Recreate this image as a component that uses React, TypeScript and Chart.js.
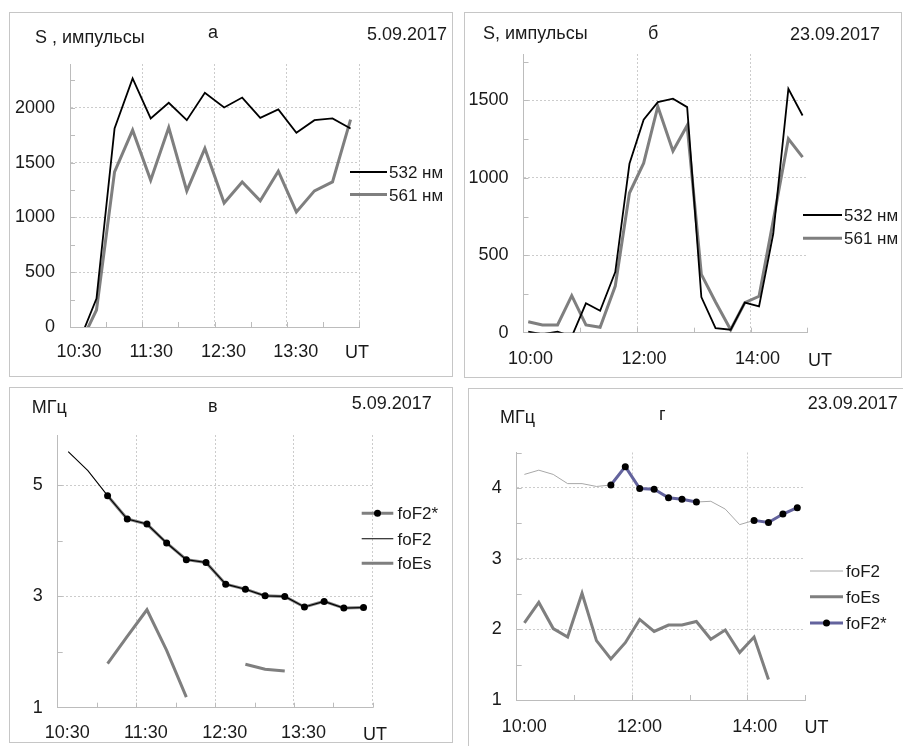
import React, { useEffect, useRef } from "react";
import { Chart, registerables } from "chart.js";

Chart.register(...registerables);

const FONT = '"Liberation Sans", Arial, Helvetica, sans-serif';
const TEXT = "#1a1a1a";
const AXIS = "#bcbcbc";
const GRID = "#cccccc";
const BLACK = "#000000";
const GRAY = "#7f7f7f";
const LIGHTGRAY = "#a8a8a8";
const SLATE = "#63639d";

// ---- Panel а (5.09.2017, intensity) ----
const timesA = ["10:37", "10:52", "11:07", "11:22", "11:37", "11:52", "12:07", "12:22", "12:38", "12:53", "13:08", "13:23", "13:38", "13:53", "14:08", "14:23"];
const nm532A = [-148, 259, 1811, 2268, 1903, 2046, 1887, 2137, 2003, 2094, 1909, 1985, 1772, 1887, 1903, 1811];
const nm561A = [-188, 155, 1416, 1796, 1339, 1820, 1242, 1629, 1132, 1324, 1151, 1422, 1050, 1242, 1324, 1893];

// ---- Panel б (23.09.2017, intensity) ----
const timesB = ["10:05", "10:20", "10:36", "10:51", "11:06", "11:21", "11:37", "11:52", "12:07", "12:22", "12:38", "12:53", "13:08", "13:23", "13:39", "13:54", "14:09", "14:24", "14:40", "14:55"];
const nm532B = [7, -10, 7, -25, 190, 142, 392, 1091, 1375, 1489, 1511, 1457, 230, 30, 19, 194, 170, 639, 1575, 1403];
const nm561B = [71, 50, 50, 239, 50, 35, 301, 902, 1095, 1461, 1173, 1338, 377, 198, 19, 194, 235, 725, 1252, 1134];

// ---- Panel в (5.09.2017, frequencies) ----
const timesC = ["10:38", "10:53", "11:08", "11:23", "11:38", "11:53", "12:08", "12:23", "12:38", "12:53", "13:08", "13:23", "13:38", "13:53", "14:08", "14:23"];
const foF2C = [5.6, 5.26, 4.81, 4.39, 4.3, 3.96, 3.66, 3.61, 3.22, 3.13, 3.01, 3.0, 2.81, 2.91, 2.79, 2.8];
const foF2sC = [null, null, 4.81, 4.39, 4.3, 3.96, 3.66, 3.61, 3.22, 3.13, 3.01, 3.0, 2.81, 2.91, 2.79, 2.8];
const foEsC = [null, null, 1.79, 2.28, 2.76, 2.03, 1.19, null, null, 1.78, 1.69, 1.66, null, null, null, null];

// ---- Panel г (23.09.2017, frequencies) ----
const timesD = ["10:08", "10:23", "10:38", "10:53", "11:08", "11:23", "11:38", "11:53", "12:08", "12:23", "12:38", "12:52", "13:07", "13:22", "13:37", "13:52", "14:07", "14:22", "14:37", "14:52"];
const foF2D = [4.19, 4.25, 4.19, 4.06, 4.06, 4.02, 4.04, 4.3, 3.99, 3.98, 3.86, 3.84, 3.8, 3.81, 3.7, 3.48, 3.54, 3.51, 3.63, 3.72];
const foF2sD = [null, null, null, null, null, null, 4.04, 4.3, 3.99, 3.98, 3.86, 3.84, 3.8, null, null, null, 3.54, 3.51, 3.63, 3.72];
const foEsD = [2.09, 2.38, 2.01, 1.89, 2.51, 1.84, 1.58, 1.81, 2.14, 1.97, 2.06, 2.06, 2.11, 1.86, 1.99, 1.67, 1.89, 1.29, null, null];

type Series = { label: string; data: (number | null)[]; color: string; width: number; dot?: boolean };
type LegendItem = { label: string; y: number; color: string; width: number; dot?: boolean };
type Panel = {
  box: { left: number; top: number; w: number; h: number };
  plot: { l: number; t: number; r: number; b: number };
  times: string[];
  series: Series[];
  xMin: number; xMax: number; xStep: number; xMajor: number; labelOffset: number; xPad: number;
  yMin: number; yMax: number; yStep: number; yTick: number; yMajor: number;
  texts: { t: string; x: number; y: number }[];
  ut: { x: number; y: number };
  legend: { x1: number; x2: number; tx: number; items: LegendItem[] };
};

const toMin = (s: string) => {
  const [h, m] = s.split(":").map(Number);
  return h * 60 + m;
};
const fmt = (v: number) => {
  const h = Math.floor(v / 60);
  const m = Math.round(v - h * 60);
  return `${h}:${m < 10 ? "0" : ""}${m}`;
};
const onLattice = (v: number, base: number, step: number) => {
  const q = (v - base) / step;
  return Math.abs(q - Math.round(q)) < 1e-6;
};

const panels: Panel[] = [
  {
    box: { left: 9, top: 12, w: 444, h: 365 },
    plot: { l: 70, t: 64, r: 359, b: 327 },
    times: timesA,
    series: [
      { label: "532 нм", data: nm532A, color: BLACK, width: 1.8 },
      { label: "561 нм", data: nm561A, color: GRAY, width: 3 },
    ],
    xMin: 630, xMax: 870, xStep: 30, xMajor: 60, labelOffset: 9, xPad: 14,
    yMin: 0, yMax: 2400, yStep: 250, yTick: 250, yMajor: 500,
    texts: [
      { t: "S , импульсы", x: 35, y: 43 },
      { t: "а", x: 208, y: 38 },
      { t: "5.09.2017", x: 367, y: 40 },
    ],
    ut: { x: 345, y: 358 },
    legend: {
      x1: 350, x2: 387, tx: 389,
      items: [
        { label: "532 нм", y: 172, color: BLACK, width: 1.8 },
        { label: "561 нм", y: 194.5, color: GRAY, width: 3 },
      ],
    },
  },
  {
    box: { left: 464, top: 12, w: 438, h: 366 },
    plot: { l: 523.5, t: 54, r: 807.3, b: 332.7 },
    times: timesB,
    series: [
      { label: "532 нм", data: nm532B, color: BLACK, width: 1.8 },
      { label: "561 нм", data: nm561B, color: GRAY, width: 3 },
    ],
    xMin: 600, xMax: 900, xStep: 60, xMajor: 120, labelOffset: 7, xPad: 16,
    yMin: 0, yMax: 1800, yStep: 50, yTick: 250, yMajor: 500,
    texts: [
      { t: "S, импульсы", x: 483, y: 38.5 },
      { t: "б", x: 648, y: 38.5 },
      { t: "23.09.2017", x: 790, y: 39.5 },
    ],
    ut: { x: 808, y: 366 },
    legend: {
      x1: 803, x2: 842, tx: 844,
      items: [
        { label: "532 нм", y: 215, color: BLACK, width: 1.8 },
        { label: "561 нм", y: 238.3, color: GRAY, width: 3 },
      ],
    },
  },
  {
    box: { left: 9, top: 387, w: 444, h: 356 },
    plot: { l: 57.7, t: 435, r: 372.7, b: 707.7 },
    times: timesC,
    series: [
      { label: "foF2", data: foF2C, color: BLACK, width: 1.1 },
      { label: "foF2*", data: foF2sC, color: GRAY, width: 3, dot: true },
      { label: "foEs", data: foEsC, color: GRAY, width: 3 },
    ],
    xMin: 630, xMax: 870, xStep: 30, xMajor: 60, labelOffset: 9.5, xPad: 15,
    yMin: 1, yMax: 5.9, yStep: 1, yTick: 1, yMajor: 2,
    texts: [
      { t: "МГц", x: 31.7, y: 413 },
      { t: "в", x: 208, y: 412 },
      { t: "5.09.2017", x: 351.7, y: 408.5 },
    ],
    ut: { x: 363, y: 740 },
    legend: {
      x1: 361.7, x2: 393.3, tx: 397.5,
      items: [
        { label: "foF2*", y: 513.3, color: GRAY, width: 3, dot: true },
        { label: "foF2", y: 538.8, color: BLACK, width: 1.1 },
        { label: "foEs", y: 563.3, color: GRAY, width: 3 },
      ],
    },
  },
  {
    box: { left: 468, top: 388, w: 440, h: 362 },
    plot: { l: 516.7, t: 452.5, r: 805, b: 700 },
    times: timesD,
    series: [
      { label: "foF2*", data: foF2sD, color: SLATE, width: 3, dot: true },
      { label: "foF2", data: foF2D, color: LIGHTGRAY, width: 1 },
      { label: "foEs", data: foEsD, color: GRAY, width: 3 },
    ],
    xMin: 600, xMax: 900, xStep: 60, xMajor: 120, labelOffset: 7.5, xPad: 16,
    yMin: 1, yMax: 4.5, yStep: 0.5, yTick: 0.5, yMajor: 1,
    texts: [
      { t: "МГц", x: 500, y: 423 },
      { t: "г", x: 659, y: 420 },
      { t: "23.09.2017", x: 807.7, y: 409 },
    ],
    ut: { x: 804.5, y: 733 },
    legend: {
      x1: 810, x2: 843, tx: 846,
      items: [
        { label: "foF2", y: 571, color: LIGHTGRAY, width: 1 },
        { label: "foEs", y: 596.7, color: GRAY, width: 3 },
        { label: "foF2*", y: 623, color: SLATE, width: 3, dot: true },
      ],
    },
  },
];

function decor(p: Panel) {
  const ox = p.box.left;
  const oy = p.box.top;
  return {
    id: "decor",
    beforeDatasetsDraw(chart: any) {
      const { ctx, chartArea: ca, scales } = chart;
      const x = scales.x;
      const y = scales.y;
      ctx.save();
      ctx.strokeStyle = AXIS;
      ctx.lineWidth = 1;
      y.ticks.forEach((t: any) => {
        if (t.value === p.yMin || !onLattice(t.value, p.yMin, p.yTick)) return;
        const py = Math.round(y.getPixelForValue(t.value)) + 0.5;
        ctx.beginPath();
        ctx.moveTo(ca.left, py);
        ctx.lineTo(ca.left + 5, py);
        ctx.stroke();
      });
      x.ticks.forEach((t: any) => {
        if (t.value === p.xMin || !onLattice(t.value, p.xMin, p.xStep)) return;
        const px = Math.round(x.getPixelForValue(t.value)) + 0.5;
        ctx.beginPath();
        ctx.moveTo(px, ca.bottom);
        ctx.lineTo(px, ca.bottom - 5);
        ctx.stroke();
      });
      ctx.restore();
    },
    afterDraw(chart: any) {
      const { ctx } = chart;
      ctx.save();
      ctx.fillStyle = TEXT;
      ctx.textBaseline = "alphabetic";
      ctx.textAlign = "left";
      ctx.font = `18px ${FONT}`;
      p.texts.forEach((t) => ctx.fillText(t.t, t.x - ox, t.y - oy));
      ctx.fillText("UT", p.ut.x - ox, p.ut.y - oy);
      ctx.font = `17px ${FONT}`;
      const lg = p.legend;
      lg.items.forEach((it) => {
        const yy = it.y - oy;
        ctx.strokeStyle = it.color;
        ctx.lineWidth = it.width;
        ctx.beginPath();
        ctx.moveTo(lg.x1 - ox, yy);
        ctx.lineTo(lg.x2 - ox, yy);
        ctx.stroke();
        if (it.dot) {
          ctx.fillStyle = "#000";
          ctx.beginPath();
          ctx.arc((lg.x1 + lg.x2) / 2 - ox, yy, 3.5, 0, Math.PI * 2);
          ctx.fill();
        }
        ctx.fillStyle = TEXT;
        ctx.fillText(it.label, lg.tx - ox, yy + 6);
      });
      ctx.restore();
    },
  };
}

function PanelChart({ p }: { p: Panel }) {
  const ref = useRef<HTMLCanvasElement>(null);
  useEffect(() => {
    const canvas = ref.current;
    if (!canvas) return;
    const xs = p.times.map(toMin);
    const chart = new Chart(canvas, {
      type: "line",
      data: {
        datasets: p.series.map((s) => ({
          label: s.label,
          data: xs.map((x, i) => ({ x, y: s.data[i] })) as any,
          borderColor: s.color,
          backgroundColor: s.color,
          borderWidth: s.width,
          pointRadius: s.dot ? 3.5 : 0,
          pointHoverRadius: 0,
          pointBackgroundColor: "#000",
          pointBorderWidth: 0,
          tension: 0,
          spanGaps: false,
          fill: false,
        })),
      },
      options: {
        responsive: false,
        animation: false,
        devicePixelRatio: 1,
        events: [],
        layout: {
          padding: {
            left: 0,
            top: p.plot.t - p.box.top,
            right: p.box.left + p.box.w - p.plot.r,
            bottom: 0,
          },
        },
        plugins: { legend: { display: false }, tooltip: { enabled: false } },
        scales: {
          x: {
            type: "linear",
            min: p.xMin,
            max: p.xMax,
            afterFit: (s: any) => {
              s.height = p.box.top + p.box.h - p.plot.b;
            },
            ticks: {
              stepSize: p.xStep,
              includeBounds: false,
              autoSkip: false,
              maxRotation: 0,
              minRotation: 0,
              labelOffset: p.labelOffset,
              padding: p.xPad,
              color: TEXT,
              font: { family: FONT, size: 18 },
              callback: (v: any) => {
                const n = Number(v);
                return onLattice(n, p.xMin, p.xMajor) && n !== p.xMax ? fmt(n) : "";
              },
            },
            grid: {
              drawTicks: false,
              lineWidth: 1,
              color: (c: any) => {
                const v = c.tick ? c.tick.value : undefined;
                return v !== undefined && v !== p.xMin && onLattice(v, p.xMin, p.xMajor) ? GRID : "rgba(0,0,0,0)";
              },
            },
            border: { display: true, color: AXIS, width: 1, dash: [2, 2] },
          },
          y: {
            type: "linear",
            min: p.yMin,
            max: p.yMax,
            afterFit: (s: any) => {
              s.width = p.plot.l - p.box.left;
            },
            ticks: {
              stepSize: p.yStep,
              includeBounds: false,
              autoSkip: false,
              padding: 15,
              color: TEXT,
              font: { family: FONT, size: 18 },
              callback: (v: any) => {
                const n = Number(v);
                return onLattice(n, p.yMin, p.yMajor) ? String(Math.round(n * 100) / 100) : "";
              },
            },
            grid: {
              drawTicks: false,
              lineWidth: 1,
              color: (c: any) => {
                const v = c.tick ? c.tick.value : undefined;
                return v !== undefined && v !== p.yMin && onLattice(v, p.yMin, p.yMajor) ? GRID : "rgba(0,0,0,0)";
              },
            },
            border: { display: true, color: AXIS, width: 1, dash: [2, 2] },
          },
        },
      } as any,
      plugins: [decor(p) as any],
    });
    return () => chart.destroy();
  }, [p]);
  return (
    <>
      <canvas
        ref={ref}
        width={p.box.w}
        height={p.box.h}
        style={{ position: "absolute", left: p.box.left, top: p.box.top, width: p.box.w, height: p.box.h }}
      />
      <div
        style={{
          position: "absolute",
          left: p.box.left,
          top: p.box.top,
          width: p.box.w,
          height: p.box.h,
          border: "1px solid #c6c6c6",
          boxSizing: "border-box",
          pointerEvents: "none",
        }}
      />
    </>
  );
}

export default function App() {
  return (
    <div
      style={{
        position: "absolute",
        left: 0,
        top: 0,
        width: 903,
        height: 746,
        overflow: "hidden",
        background: "#ffffff",
      }}
    >
      {panels.map((p, i) => (
        <PanelChart key={i} p={p} />
      ))}
    </div>
  );
}
